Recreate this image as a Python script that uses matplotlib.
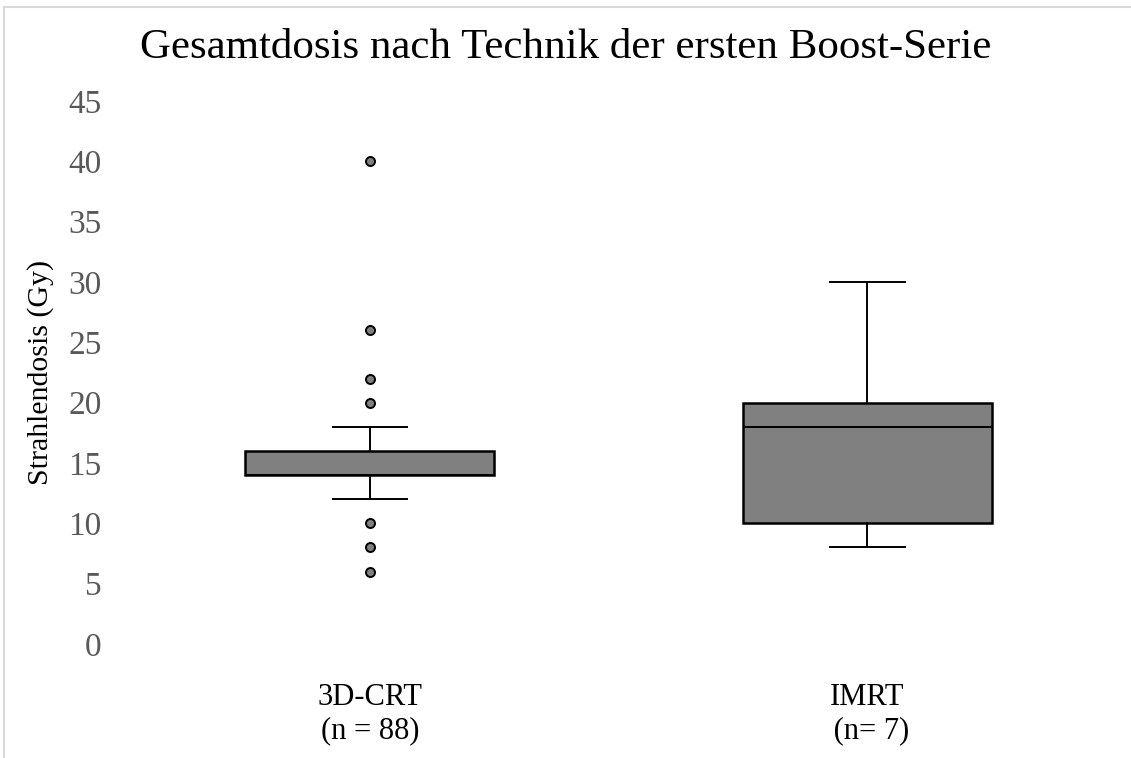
import matplotlib
matplotlib.use('Agg')
import matplotlib.pyplot as plt
from matplotlib.lines import Line2D

plt.rcParams['font.family'] = ['Liberation Serif', 'DejaVu Serif']

# box statistics (Gy)
labels = ['3D-CRT\n(n = 88)', 'IMRT\n (n= 7)']
whislo = [12, 8]
q1 = [14, 10]
med = [14, 18]
q3 = [16, 20]
whishi = [18, 30]
fliers = [[40, 26, 22, 20, 10, 8, 6], []]
yticks = [0, 5, 10, 15, 20, 25, 30, 35, 40, 45]

stats = []
for i in range(len(labels)):
    stats.append({
        'whislo': whislo[i], 'q1': q1[i], 'med': med[i], 'q3': q3[i],
        'whishi': whishi[i], 'fliers': fliers[i], 'label': labels[i]
    })

fig = plt.figure(figsize=(11.31, 7.58), dpi=100)
ax = fig.add_axes([0.107, 0.1504, 0.88, 0.7164])

ax.bxp(stats, positions=[1, 2], widths=0.5, patch_artist=True,
       boxprops=dict(facecolor='#808080', edgecolor='black', linewidth=1.8),
       medianprops=dict(color='black', linewidth=1.4),
       whiskerprops=dict(color='black', linewidth=1.4),
       capprops=dict(color='black', linewidth=1.4),
       capwidths=0.15,
       flierprops=dict(marker='o', markerfacecolor='#808080', markeredgecolor='black',
                       markersize=6.5, markeredgewidth=1.4))

ax.set_xlim(0.5, 2.5)
ax.set_ylim(0, 45)
ax.set_yticks(yticks)
ax.tick_params(axis='y', length=0, labelsize=24, labelcolor='#595959', pad=14)
ax.tick_params(axis='x', length=0, labelsize=22, pad=28)
for lab in ax.get_xticklabels():
    lab.set_linespacing(1.2)
for s in ax.spines.values():
    s.set_visible(False)

ax.set_ylabel('Strahlendosis (Gy)', fontsize=21.5, labelpad=10)
fig.suptitle('Gesamtdosis nach Technik der ersten Boost-Serie', fontsize=31, y=0.962)

# light frame at top and left edge
fig.lines.append(Line2D([0.0035, 1.0], [0.9908, 0.9908], transform=fig.transFigure,
                        color='#d9d9d9', linewidth=1.5))
fig.lines.append(Line2D([0.0035, 0.0035], [0.0, 0.9908], transform=fig.transFigure,
                        color='#d9d9d9', linewidth=1.5))

fig.savefig('out.png', dpi=100)
